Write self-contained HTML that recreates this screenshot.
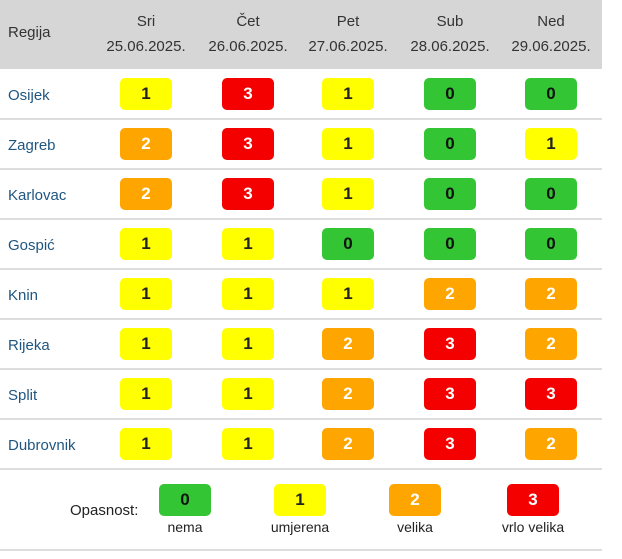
<!DOCTYPE html>
<html><head><meta charset="utf-8">
<style>
body{margin:0;width:622px;height:559px;background:#fff;font-family:"Liberation Sans",sans-serif;position:relative;overflow:hidden}
.abs{position:absolute}
.hdr{left:0;top:0;width:602px;height:69px;background:#d6d6d6}
.ht{color:#333;font-size:15px;text-align:center;line-height:25px;width:110px}
.line{left:0;width:602px;height:2px;background:#ddd}
.reg{left:8px;color:#1f5680;font-size:15px}
.b{width:52px;height:32px;border-radius:5px;text-align:center;line-height:32px;font-weight:bold;font-size:17px}
.lg{font-size:14px;color:#222;text-align:center;width:100px}
</style></head><body>
<div class="abs hdr"></div>
<div class="abs" style="left:8px;top:24px;font-size:15px;color:#333">Regija</div>
<div id="root"></div>
<div class="abs" style="left:70px;top:502px;font-size:15px;color:#222">Opasnost:</div>
<script>
const days=["Sri","Čet","Pet","Sub","Ned"];
const dates=["25.06.2025.","26.06.2025.","27.06.2025.","28.06.2025.","29.06.2025."];
const regions=["Osijek","Zagreb","Karlovac","Gospić","Knin","Rijeka","Split","Dubrovnik"];
const levels=[[1,3,1,0,0],[2,3,1,0,1],[2,3,1,0,0],[1,1,0,0,0],[1,1,1,2,2],[1,1,2,3,2],[1,1,2,3,3],[1,1,2,3,2]];
const legendLabels=["nema","umjerena","velika","vrlo velika"];
const colors=["#33c533","#ffff00","#ffa500","#f40000"];
const textColors=["#111","#222","#fff","#fff"];
const colX=[146,248,348,450,551];
const legX=[185,300,415,533];
const root=document.getElementById('root');
function mk(cls,css,txt){const d=document.createElement('div');d.className='abs '+cls;d.style.cssText=css;if(txt!==undefined)d.textContent=txt;root.appendChild(d);return d;}
days.forEach((d,i)=>{
 const h=mk('ht',`left:${colX[i]-55}px;top:9px`);h.innerHTML=d+'<br>'+dates[i];
 
 
});
regions.forEach((r,ri)=>{
 const top=69+ri*50;
 const n=mk('reg',`top:${top+18}px`,r);
 
 
 levels[ri].forEach((v,ci)=>{
  const b=mk('b',`left:${colX[ci]-26}px;top:${top+9}px;background:${colors[v]};color:${textColors[v]}`,String(v));
  
  
 });
 const l=mk('line',`top:${top+49}px`);
 
 
});
legendLabels.forEach((t,i)=>{
 const b=mk('b',`left:${legX[i]-26}px;top:484px;background:${colors[i]};color:${textColors[i]}`,String(i));
 
 
 const l=mk('lg',`left:${legX[i]-50}px;top:519px`,t);
 
 
});
const bl=mk('line','top:549px');


</script>
</body></html>
